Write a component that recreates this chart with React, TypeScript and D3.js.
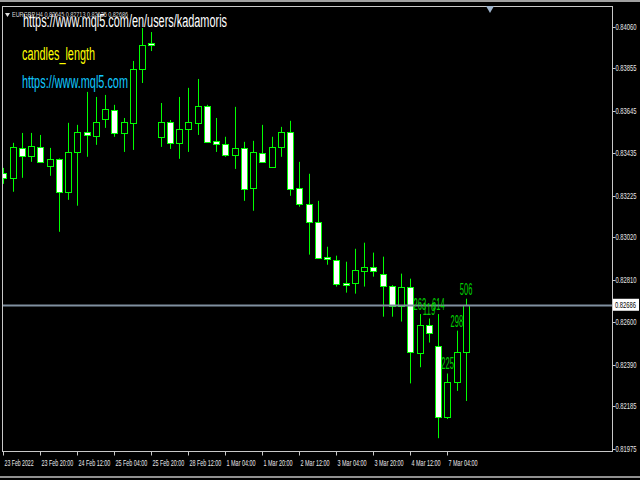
import React from 'react';
import * as d3 from 'd3';

// EURGBP H4, 23 Feb 04:00 .. 7 Mar 12:00
const opens = [0.83339, 0.83314, 0.83462, 0.83423, 0.83467, 0.83373, 0.83408, 0.83245, 0.83442, 0.83541,
    0.83522, 0.83605, 0.83650, 0.83536, 0.83586, 0.83853, 0.83981, 0.83517, 0.83591, 0.83487,
    0.83556, 0.83586, 0.83670, 0.83497, 0.83482, 0.83428, 0.83462, 0.83265, 0.83438, 0.83368,
    0.83467, 0.83541, 0.83265, 0.83186, 0.83097, 0.82924, 0.82909, 0.82795, 0.82795, 0.82855,
    0.82874, 0.82840, 0.82781, 0.82682, 0.82776, 0.82445, 0.82588, 0.82484, 0.82133, 0.82306, 0.82450];
const highs = [0.83363, 0.83487, 0.83536, 0.83536, 0.83526, 0.83462, 0.83410, 0.83586, 0.83576, 0.83739,
    0.83714, 0.83724, 0.83675, 0.83610, 0.83892, 0.84055, 0.84035, 0.83684, 0.83600, 0.83714,
    0.83759, 0.83803, 0.83675, 0.83610, 0.83517, 0.83665, 0.83492, 0.83497, 0.83576, 0.83517,
    0.83566, 0.83596, 0.83393, 0.83334, 0.83200, 0.82973, 0.82929, 0.82899, 0.82963, 0.82993,
    0.82944, 0.82924, 0.82783, 0.82840, 0.82815, 0.82640, 0.82618, 0.82640, 0.82346, 0.82558, 0.82716];
const lows = [0.83284, 0.83245, 0.83314, 0.83393, 0.83388, 0.83324, 0.83047, 0.83205, 0.83176, 0.83418,
    0.83477, 0.83561, 0.83517, 0.83442, 0.83452, 0.83783, 0.83941, 0.83467, 0.83457, 0.83408,
    0.83442, 0.83526, 0.83487, 0.83442, 0.83418, 0.83358, 0.83200, 0.83151, 0.83388, 0.83363,
    0.83418, 0.83225, 0.83171, 0.82934, 0.82914, 0.82884, 0.82776, 0.82746, 0.82741, 0.82776,
    0.82825, 0.82627, 0.82627, 0.82603, 0.82297, 0.82377, 0.82499, 0.82026, 0.82121, 0.82260, 0.82210];
const closes = [0.83314, 0.83467, 0.83423, 0.83472, 0.83393, 0.83408, 0.83245, 0.83442, 0.83541, 0.83526,
    0.83591, 0.83655, 0.83536, 0.83591, 0.83853, 0.83971, 0.83971, 0.83591, 0.83487, 0.83556,
    0.83591, 0.83670, 0.83492, 0.83482, 0.83428, 0.83462, 0.83260, 0.83442, 0.83393, 0.83467,
    0.83541, 0.83260, 0.83186, 0.83097, 0.82919, 0.82914, 0.82790, 0.82785, 0.82860, 0.82874,
    0.82855, 0.82781, 0.82682, 0.82776, 0.82450, 0.82588, 0.82548, 0.82133, 0.82306, 0.82450, 0.82686];

// candles_length labels on the last six bars
const lengthLabels = [263, 119, 614, 225, 298, 506];

const priceTicks = [0.84060, 0.83855, 0.83645, 0.83435, 0.83225, 0.83020, 0.82810, 0.82600, 0.82390, 0.82185, 0.81975];
const timeLabels = ['23 Feb 2022', '23 Feb 20:00', '24 Feb 12:00', '25 Feb 04:00', '25 Feb 20:00', '28 Feb 12:00',
    '1 Mar 04:00', '1 Mar 20:00', '2 Mar 12:00', '3 Mar 04:00', '3 Mar 20:00', '4 Mar 12:00', '7 Mar 04:00'];
const currentPrice = 0.82686;
const header = 'EURGBP,H4  0.82645 0.82713 0.82635 0.82686';

const W = 640, H = 480;
const frame = {left: 2.5, right: 612.5, top: 6.5, bottom: 451.5};
const GREEN = '#00ff00';
const narrow = '"Liberation Sans Narrow", "Liberation Sans", Arial, sans-serif';

const App: React.FC = () => {
    const n = closes.length;
    const x = d3.scaleLinear().domain([0, n - 1]).range([3.3, 465.8]);
    const y = d3.scaleLinear().domain([0.81975, 0.84060]).range([448.5, 27]);
    const px = (i: number) => Math.round(x(i)) + 0.5;

    return (
        <svg width={W} height={H} style={{position: 'fixed', left: 0, top: 0, background: '#000'}}>
            <rect x={0} y={0} width={W} height={H} fill="#000"/>
            {/* window edges */}
            <rect x={0} y={0} width={W} height={2} fill="#a0a0a0"/>
            <rect x={0} y={476} width={W} height={2} fill="#909090"/>

            <defs>
                <clipPath id="plot">
                    <rect x={frame.left} y={frame.top} width={frame.right - frame.left} height={frame.bottom - frame.top}/>
                </clipPath>
            </defs>

            <g clipPath="url(#plot)">
                {closes.map((c, i) => {
                    const o = opens[i];
                    const cx = px(i);
                    const top = Math.round(y(Math.max(o, c))) + 0.5;
                    const bot = Math.max(Math.round(y(Math.min(o, c))) + 0.5, top + 1);
                    return (
                        <g key={i}>
                            <line x1={cx} x2={cx} y1={y(highs[i])} y2={y(lows[i])} stroke={GREEN} strokeWidth={1}/>
                            <rect x={cx - 3} y={top} width={6} height={bot - top}
                                  fill={c < o ? '#fff' : '#000'} stroke={GREEN} strokeWidth={1}/>
                        </g>
                    );
                })}

                {/* current price line */}
                <line x1={frame.left} x2={frame.right} y1={Math.round(y(currentPrice)) + 0.5}
                      y2={Math.round(y(currentPrice)) + 0.5} stroke="#8090a0" strokeWidth={2}/>

                {lengthLabels.map((v, k) => {
                    const i = n - lengthLabels.length + k;
                    return (
                        <text key={k} x={x(i) - 6} y={y(highs[i]) - 4} fill="#00d000" fontFamily={narrow}
                              fontSize={17} textLength={12.5} lengthAdjust="spacingAndGlyphs">{v}</text>
                    );
                })}
            </g>

            {/* frame */}
            <rect x={frame.left} y={frame.top} width={frame.right - frame.left} height={frame.bottom - frame.top}
                  fill="none" stroke="#c8c8c8" strokeWidth={1}/>

            {/* price axis */}
            {priceTicks.map((p, k) => (
                <g key={k}>
                    <line x1={frame.right} x2={frame.right + 3} y1={Math.round(y(p)) + 0.5} y2={Math.round(y(p)) + 0.5}
                          stroke="#c8c8c8"/>
                    <text x={615.5} y={y(p) + 3} fill="#e8e8e8" fontFamily={narrow} fontSize={9}
                          textLength={21} lengthAdjust="spacingAndGlyphs">{p.toFixed(5)}</text>
                </g>
            ))}
            <rect x={613} y={y(currentPrice) - 6} width={26} height={12} fill="#fff"/>
            <text x={615} y={y(currentPrice) + 3} fill="#000" fontFamily={narrow} fontSize={9}
                  textLength={21} lengthAdjust="spacingAndGlyphs">{currentPrice.toFixed(5)}</text>

            {/* time axis */}
            {timeLabels.map((t, k) => {
                const tx = px(k * 4);
                return (
                    <g key={k}>
                        <line x1={tx} x2={tx} y1={frame.bottom} y2={frame.bottom + 4} stroke="#c8c8c8"/>
                        <text x={tx + 1} y={466} fill="#e8e8e8" fontFamily={narrow} fontSize={9}
                              textLength={t.length * 2.65} lengthAdjust="spacingAndGlyphs">{t}</text>
                    </g>
                );
            })}

            {/* chart shift marker */}
            <path d="M486,6 L494,6 L490,13 Z" fill="#9fb4cc"/>

            {/* header and indicator texts */}
            <path d="M5,13 L10,13 L7.5,17 Z" fill="#e0e0e0"/>
            <text x={12} y={17} fill="#d8d8d8" fontFamily={narrow} fontSize={8}
                  textLength={116} lengthAdjust="spacingAndGlyphs">{header}</text>
            <text x={23} y={27} fill="#fff" fontFamily={narrow} fontSize={18}
                  textLength={204} lengthAdjust="spacingAndGlyphs">https://www.mql5.com/en/users/kadamoris</text>
            <text x={22} y={60} fill="#ffff00" fontFamily={narrow} fontSize={18}
                  textLength={73} lengthAdjust="spacingAndGlyphs">candles_length</text>
            <text x={22} y={88} fill="#10c8ff" fontFamily={narrow} fontSize={18}
                  textLength={106} lengthAdjust="spacingAndGlyphs">https://www.mql5.com</text>
        </svg>
    );
};

export default App;
